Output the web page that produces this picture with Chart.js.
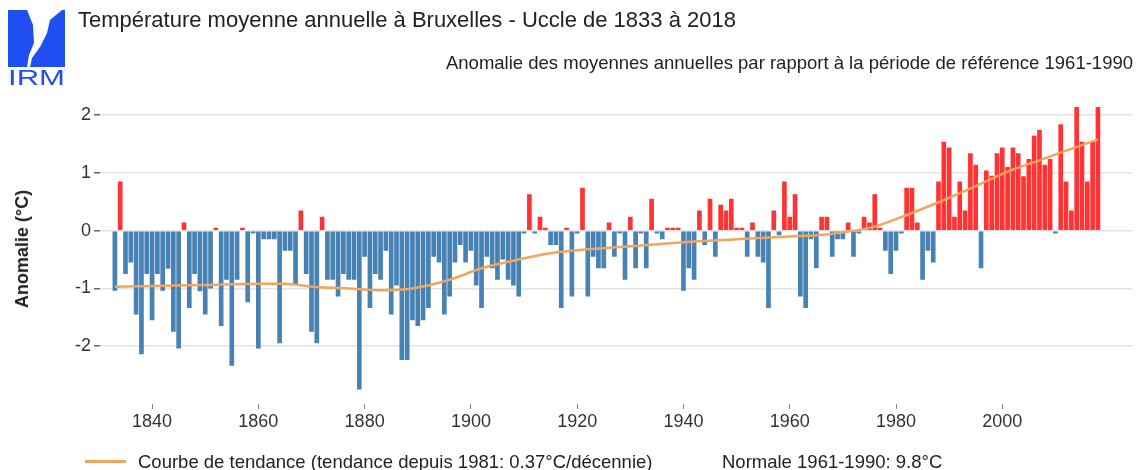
<!DOCTYPE html>
<html><head><meta charset="utf-8">
<script src="https://cdn.jsdelivr.net/npm/chart.js@4/dist/chart.umd.min.js"></script>
<style>
html,body{margin:0;padding:0;background:#fff;}
body{width:1144px;height:470px;position:relative;overflow:hidden;font-family:"Liberation Sans",Arial,Helvetica,sans-serif;}
#wrap{position:absolute;left:0;top:0;width:1144px;height:470px;}
.t{position:absolute;white-space:nowrap;color:#222;line-height:1;}
</style></head><body>
<div id="wrap"><canvas id="c" width="1144" height="470"></canvas></div>
<svg style="position:absolute;left:0;top:0" width="80" height="90">
  <rect x="8" y="10" width="57" height="57" fill="#1f4ff0"/>
  <polygon points="27,10 62,10 50,20 47,33 40,47 32,58 30,67 27,67 29,55 34,43 33,25" fill="#fff"/>
  <text x="8" y="85" font-family="Liberation Sans, Arial, sans-serif" font-size="22" fill="#1f4ff0" textLength="57" lengthAdjust="spacingAndGlyphs">IRM</text>
</svg>
<div class="t" id="title" style="left:78px;top:9px;font-size:22px;">Température moyenne annuelle à Bruxelles - Uccle de 1833 à 2018</div>
<div class="t" id="sub" style="right:11px;top:54px;font-size:18.5px;">Anomalie des moyennes annuelles par rapport à la période de référence 1961-1990</div>
<div class="t" id="ytitle" style="left:22px;top:249px;font-size:18px;font-weight:bold;transform:translate(-50%,-50%) rotate(-90deg);">Anomalie (°C)</div>
<div style="position:absolute;left:85px;top:460px;width:41px;height:3px;background:#f5a45e;"></div>
<div class="t" style="left:138px;top:453px;font-size:18.5px;">Courbe de tendance (tendance depuis 1981: 0.37°C/décennie)</div>
<div class="t" style="left:722px;top:453px;font-size:18.5px;">Normale 1961-1990: 9.8°C</div>
<script>
// Annual mean temperature anomalies (°C) vs 1961-1990, Uccle, 1833..2018
const firstYear = 1833;
const anomalies = [
  /*1833*/ -1.04, 0.85, -0.75, -0.55, -1.45, -2.14, -0.75,
  /*1840*/ -1.55, -0.75, -1.04, -0.66, -1.75, -2.04, 0.14, -1.34, -0.75, -1.05,
  /*1850*/ -1.45, -1.00, 0.05, -1.65, -0.85, -2.34, -0.85, 0.05, -1.24, -0.05,
  /*1860*/ -2.04, -0.15, -0.15, -0.15, -1.95, -0.35, -0.35, -0.93, 0.35, -0.75,
  /*1870*/ -1.75, -1.95, 0.24, -0.85, -0.85, -1.14, -0.75, -0.85, -0.85, -2.75,
  /*1880*/ -0.45, -1.34, -0.75, -0.85, -0.35, -1.45, -0.95, -2.24, -2.24, -1.55,
  /*1890*/ -1.65, -1.55, -1.34, -0.45, -0.55, -1.45, -1.14, -0.55, -0.25, -0.55,
  /*1900*/ -0.35, -0.95, -1.34, -0.45, -0.65, -0.85, -0.50, -0.85, -0.95, -1.14,
  /*1910*/ -0.05, 0.63, -0.05, 0.24, 0.05, -0.25, -0.25, -1.34, 0.05, -1.14,
  /*1920*/ -0.05, 0.74, -1.14, -0.45, -0.65, -0.65, 0.14, -0.45, -0.05, -0.85,
  /*1930*/ 0.24, -0.65, -0.05, -0.65, 0.55, -0.05, -0.15, 0.05, 0.05, 0.05,
  /*1940*/ -1.04, -0.65, -0.85, 0.35, -0.25, 0.55, -0.45, 0.45, 0.35, 0.55,
  /*1950*/ 0.05, 0.05, -0.45, 0.14, -0.45, -0.55, -1.34, 0.35, -0.08, 0.85,
  /*1960*/ 0.24, 0.63, -1.14, -1.34, -0.15, -0.65, 0.24, 0.24, -0.45, -0.15,
  /*1970*/ -0.15, 0.14, -0.45, -0.05, 0.24, 0.14, 0.63, 0.05, -0.35, -0.75,
  /*1980*/ -0.35, -0.05, 0.74, 0.74, 0.14, -0.85, -0.35, -0.55, 0.85, 1.54,
  /*1990*/ 1.44, 0.24, 0.85, 0.35, 1.34, 1.14, -0.65, 1.04, 0.95, 1.34,
  /*2000*/ 1.44, 1.10, 1.44, 1.34, 0.94, 1.24, 1.64, 1.74, 1.14, 1.24,
  /*2010*/ -0.05, 1.84, 0.85, 0.35, 2.14, 1.54, 0.85, 1.54, 2.14
];
const years = anomalies.map((_, i) => firstYear + i);
// Smoothed trend curve read at selected years
const trendYears  = [1833, 1840, 1850, 1860, 1865, 1870, 1877, 1883, 1889, 1896, 1902, 1909, 1915, 1921, 1930, 1940, 1950, 1960, 1965, 1970, 1976, 1982, 1989, 1995, 2001, 2008, 2014, 2018];
const trendValues = [-0.97, -0.96, -0.94, -0.92, -0.92, -0.97, -1.00, -1.03, -1.00, -0.85, -0.65, -0.50, -0.39, -0.33, -0.27, -0.20, -0.15, -0.10, -0.08, -0.03, 0.07, 0.27, 0.53, 0.77, 1.02, 1.25, 1.45, 1.58];
const xTickYears = [1840, 1860, 1880, 1900, 1920, 1940, 1960, 1980, 2000];
const yTickValues = [-2, -1, 0, 1, 2];

const RED = '#ff3333', BLUE = '#4682b4', ORANGE = '#f5a45e';
const barData = years.map((y, i) => ({x: y, y: anomalies[i]}));
const trendData = trendYears.map((y, i) => ({x: y, y: trendValues[i]}));

new Chart(document.getElementById('c'), {
  data: {
    datasets: [
      {type: 'line', data: trendData, borderColor: ORANGE, borderWidth: 2.5, pointRadius: 0,
       cubicInterpolationMode: 'monotone', fill: false, order: 0},
      {type: 'bar', data: barData, order: 1,
       backgroundColor: anomalies.map(v => v >= 0 ? RED : BLUE),
       borderWidth: 0, barPercentage: 0.88, categoryPercentage: 1.0, grouped: false}
    ]
  },
  options: {
    responsive: false, animation: false, devicePixelRatio: 1,
    layout: {padding: {top: 103.5, bottom: 36, left: 0, right: 11}},
    plugins: {legend: {display: false}, tooltip: {enabled: false}, title: {display: false}},
    scales: {
      x: {
        type: 'linear', min: 1830.2, max: 2024.6, offset: false,
        afterBuildTicks: s => { s.ticks = xTickYears.map(v => ({value: v})); },
        afterFit: s => { s.height = 30; },
        grid: {offset: false, drawOnChartArea: false, drawTicks: true, tickLength: 5, tickColor: '#888', lineWidth: 1},
        border: {display: false},
        ticks: {callback: v => String(v), color: '#333', font: {family: 'Liberation Sans', size: 18}, padding: 2, maxRotation: 0, autoSkip: false}
      },
      y: {
        type: 'linear', min: -3.0, max: 2.2,
        afterBuildTicks: s => { s.ticks = yTickValues.map(v => ({value: v})); },
        afterFit: s => { s.width = 100; },
        grid: {color: '#e4e4e4', lineWidth: 1.5, drawTicks: true, tickLength: 6, tickColor: '#666'},
        border: {display: false},
        ticks: {callback: v => String(v), color: '#333', font: {family: 'Liberation Sans', size: 18}, padding: 3}
      }
    }
  }
});
</script>
</body></html>
